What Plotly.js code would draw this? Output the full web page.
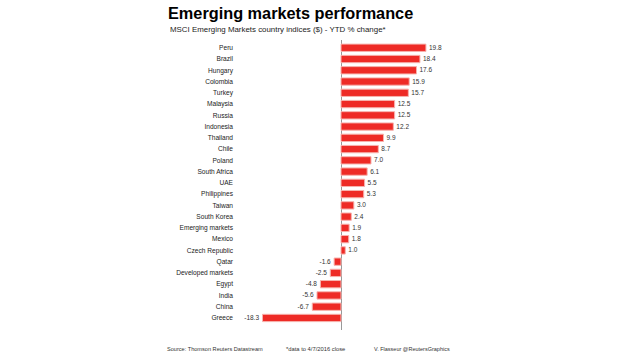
<!DOCTYPE html>
<html><head><meta charset="utf-8">
<script src="https://cdn.plot.ly/plotly-3.0.1.min.js"></script>
<style>html,body{margin:0;padding:0;background:#fff;}#chart{width:620px;height:354px;}</style>
</head><body><div id="chart"></div>
<script>
const countries = ["Peru","Brazil","Hungary","Colombia","Turkey","Malaysia","Russia","Indonesia","Thailand","Chile","Poland","South Africa","UAE","Philippines","Taiwan","South Korea","Emerging markets","Mexico","Czech Republic","Qatar","Developed markets","Egypt","India","China","Greece"];
const ytdChange = [19.8,18.4,17.6,15.9,15.7,12.5,12.5,12.2,9.9,8.7,7.0,6.1,5.5,5.3,3.0,2.4,1.9,1.8,1.0,-1.6,-2.5,-4.8,-5.6,-6.7,-18.3];
const titleText = "Emerging markets performance";
const subtitleText = "MSCI Emerging Markets country indices ($) - YTD % change*";
const footerNotes = ["Source: Thomson Reuters Datastream","*data to 4/7/2016 close","V. Flasseur @ReutersGraphics"];

const L = 236, R = 470, T = 40, B = 330;
const px = x => (x - L) / (R - L);
const py = y => (B - y) / (B - T);
const font = "Liberation Sans, Arial, sans-serif";

const trace = {
  type: "bar", orientation: "h",
  x: ytdChange, y: countries,
  marker: {color: "#ee2b26", line: {color: "#f7b3ae", width: 1}},
  text: ytdChange.map(v => v.toFixed(1)),
  textposition: "outside",
  textfont: {family: font, size: 8, color: "#333"},
  cliponaxis: false,
  hoverinfo: "none"
};

const layout = {
  width: 620, height: 354,
  margin: {l: L, r: 620 - R, t: T, b: 354 - B, pad: 0},
  paper_bgcolor: "#fff", plot_bgcolor: "#fff",
  showlegend: false,
  bargap: 0.35,
  title: {text: "<b>" + titleText + "</b>", xref: "container", yref: "container",
          x: 168/620, xanchor: "left", y: 1 - 13/354, yanchor: "middle",
          font: {family: font, size: 16.3, color: "#000"}},
  xaxis: {range: [-(341 - L) / 4.29, (R - 341) / 4.29], showgrid: false, showticklabels: false,
          ticks: "", zeroline: true, zerolinecolor: "#999", zerolinewidth: 1, showline: false, fixedrange: true},
  yaxis: {type: "category", categoryorder: "array", categoryarray: countries,
          range: [24 + 1.07, -0.69], showgrid: false, zeroline: false, showline: false,
          ticks: "", ticklabelstandoff: 2,
          tickfont: {family: font, size: 6.6, color: "#222"}, fixedrange: true},
  annotations: [
    {text: subtitleText, xref: "paper", yref: "paper", x: px(168), y: py(30),
     xanchor: "left", yanchor: "middle", showarrow: false, font: {family: font, size: 7.9, color: "#222"}},
    {text: footerNotes[0], xref: "paper", yref: "paper", x: px(165), y: py(349),
     xanchor: "left", yanchor: "middle", showarrow: false, font: {family: font, size: 5.6, color: "#333"}},
    {text: footerNotes[1], xref: "paper", yref: "paper", x: px(284), y: py(349),
     xanchor: "left", yanchor: "middle", showarrow: false, font: {family: font, size: 5.8, color: "#333"}},
    {text: footerNotes[2], xref: "paper", yref: "paper", x: px(372), y: py(349),
     xanchor: "left", yanchor: "middle", showarrow: false, font: {family: font, size: 5.5, color: "#333"}}
  ]
};

Plotly.newPlot("chart", [trace], layout, {staticPlot: true, displayModeBar: false});
</script></body></html>
